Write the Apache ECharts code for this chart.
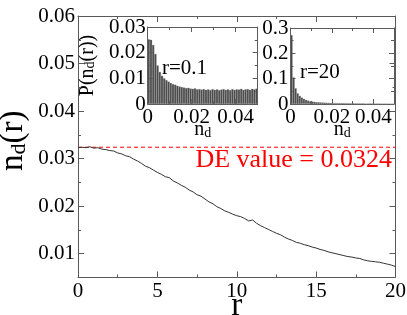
<!DOCTYPE html>
<html><head><meta charset="utf-8">
<script src="https://cdn.jsdelivr.net/npm/echarts@6/dist/echarts.min.js"></script>
<style>html,body{margin:0;padding:0;background:#fff}#c{width:407px;height:315px}</style>
</head><body><div id="c"></div>
<script>
// ---- data ----
const R = [0,0.25,0.5,0.75,1,1.25,1.5,1.75,2,2.25,2.5,2.75,3,3.25,3.5,3.75,4,4.25,4.5,4.75,5,5.25,5.5,5.75,6,6.25,6.5,6.75,7,7.25,7.5,7.75,8,8.25,8.5,8.75,9,9.25,9.5,9.75,10,10.25,10.5,10.75,11,11.25,11.5,11.75,12,12.25,12.5,12.75,13,13.25,13.5,13.75,14,14.25,14.5,14.75,15,15.25,15.5,15.75,16,16.25,16.5,16.75,17,17.25,17.5,17.75,18,18.25,18.5,18.75,19,19.25,19.5,19.75,20];
const ND = [0.0323,0.0324,0.0323,0.0325,0.0322,0.0323,0.0320,0.0319,0.0317,0.0316,0.0312,0.0310,0.0306,0.0304,0.0299,0.0295,0.0290,0.0284,0.0281,0.0276,0.0271,0.0267,0.0262,0.0260,0.0253,0.0249,0.0244,0.0240,0.0234,0.0230,0.0224,0.0221,0.0215,0.0209,0.0205,0.0199,0.0195,0.0190,0.0187,0.0183,0.0180,0.0178,0.0174,0.0169,0.0171,0.0164,0.0159,0.0155,0.0151,0.0147,0.0143,0.0140,0.0135,0.0131,0.0128,0.0124,0.0122,0.0119,0.0117,0.0114,0.0112,0.0109,0.0107,0.0104,0.0102,0.0100,0.0098,0.0096,0.0094,0.0093,0.0091,0.0090,0.0087,0.0085,0.0084,0.0083,0.0082,0.0080,0.0078,0.0076,0.0073];
const DE_VALUE = 0.0324;
const R_RANGE = [0, 20];
const BIN_CENTERS = ['0.0005','0.0015','0.0025','0.0035','0.0045','0.0055','0.0065','0.0075','0.0085','0.0095','0.0105','0.0115','0.0125','0.0135','0.0145','0.0155','0.0165','0.0175','0.0185','0.0195','0.0205','0.0215','0.0225','0.0235','0.0245','0.0255','0.0265','0.0275','0.0285','0.0295','0.0305','0.0315','0.0325','0.0335','0.0345','0.0355','0.0365','0.0375','0.0385','0.0395','0.0405','0.0415','0.0425','0.0435','0.0445','0.0455','0.0465','0.0475','0.0485','0.0495'];
const P_R01 = [0.0252,0.0250,0.0230,0.0195,0.0150,0.0125,0.0110,0.0100,0.0093,0.0087,0.0082,0.0078,0.0075,0.0071,0.0068,0.0066,0.0064,0.0062,0.0063,0.0060,0.0059,0.0061,0.0057,0.0058,0.0056,0.0058,0.0055,0.0057,0.0054,0.0058,0.0055,0.0057,0.0054,0.0056,0.0058,0.0055,0.0057,0.0054,0.0058,0.0055,0.0057,0.0056,0.0059,0.0055,0.0057,0.0058,0.0055,0.0059,0.0057,0.0060];
const P_R20 = [0.272,0.105,0.062,0.042,0.032,0.025,0.020,0.016,0.013,0.011,0.0095,0.0085,0.0075,0.0068,0.0062,0.0056,0.0052,0.0048,0.0045,0.0042,0.0040,0.0038,0.0036,0.0034,0.0033,0.0031,0.0030,0.0029,0.0027,0.0026,0.0025,0.0024,0.0023,0.0022,0.0022,0.0021,0.0020,0.0019,0.0019,0.0018,0.0017,0.0017,0.0016,0.0016,0.0015,0.0015,0.0014,0.0014,0.0013,0.0013];

// ---- styling ----
const FONT = 'Liberation Serif';
const AX = '#5a5a5a';
function axLine(){ return {show:true, onZero:false, lineStyle:{color:AX, width:1}}; }
function ticks(len){ return {show:true, inside:true, length:len, lineStyle:{color:AX, width:1}}; }
function minor(len){ return {show:true, splitNumber:2, length:len, lineStyle:{color:AX, width:1}}; }
const lab = (m, extra) => Object.assign({show:true, color:'#000', fontFamily:FONT, fontSize:21, margin:m}, extra||{});

function valueAxis(o){
  return Object.assign({type:'value', axisLine:axLine(), splitLine:{show:false}, nameMoveOverlap:false}, o);
}

const richMain = {n:{fontFamily:FONT, fontSize:33, color:'#000', lineHeight:33}, s:{fontFamily:FONT, fontSize:22, color:'#000', lineHeight:12, verticalAlign:'bottom'}};
const richInset = {n:{fontFamily:FONT, fontSize:20, color:'#000', lineHeight:20}, s:{fontFamily:FONT, fontSize:14, color:'#000', lineHeight:8, verticalAlign:'bottom'}};

const option = {
  animation:false,
  backgroundColor:'#fff',
  grid:[
    {left:78, right:11.5, top:16, bottom:37.5, containLabel:false, outerBoundsMode:'none'},
    {left:147.7, width:110, top:27, height:77, containLabel:false, outerBoundsMode:'none', show:true, backgroundColor:'#fff', borderWidth:0},
    {left:290.5, width:103.5, top:28, height:76, containLabel:false, outerBoundsMode:'none', show:true, backgroundColor:'#fff', borderWidth:0}
  ],
  xAxis:[
    valueAxis({gridIndex:0, position:'bottom', min:R_RANGE[0], max:R_RANGE[1], interval:5, axisTick:ticks(6), minorTick:minor(3), axisLabel:lab(3),
      name:'{n|r}', nameLocation:'middle', nameGap:12, nameTextStyle:{rich:richMain}}),
    valueAxis({gridIndex:0, position:'top', min:R_RANGE[0], max:R_RANGE[1], interval:5, axisTick:ticks(6), minorTick:minor(3), axisLabel:{show:false}}),
    // inset 1
    {type:'category', gridIndex:1, position:'bottom', data:BIN_CENTERS, boundaryGap:true, axisLine:{show:false}, axisTick:{show:false}, axisLabel:{show:false}, splitLine:{show:false}},
    valueAxis({gridIndex:1, position:'bottom', min:0, max:0.05, interval:0.02, axisTick:ticks(5), minorTick:minor(3), axisLabel:lab(3,{showMaxLabel:false}),
      name:'{n|n}{s|d}', nameLocation:'middle', nameGap:16, nameTextStyle:{rich:richInset}}),
    valueAxis({gridIndex:1, position:'top', min:0, max:0.05, interval:0.02, axisTick:ticks(5), minorTick:minor(3), axisLabel:{show:false}}),
    // inset 2
    {type:'category', gridIndex:2, position:'bottom', data:BIN_CENTERS, boundaryGap:true, axisLine:{show:false}, axisTick:{show:false}, axisLabel:{show:false}, splitLine:{show:false}},
    valueAxis({gridIndex:2, position:'bottom', min:0, max:0.05, interval:0.02, axisTick:ticks(5), minorTick:minor(3), axisLabel:lab(3,{showMaxLabel:false}),
      name:'{n|n}{s|d}', nameLocation:'middle', nameGap:16, nameTextStyle:{rich:richInset}}),
    valueAxis({gridIndex:2, position:'top', min:0, max:0.05, interval:0.02, axisTick:ticks(5), minorTick:minor(3), axisLabel:{show:false}})
  ],
  yAxis:[
    valueAxis({gridIndex:0, position:'left', min:0.005, max:0.06, splitNumber:5, axisTick:ticks(6), minorTick:minor(3), axisLabel:lab(3,{showMinLabel:false}),
      name:'{n|n}{s|d}{n|(r)}', nameLocation:'middle', nameGap:48, nameTextStyle:{rich:richMain, padding:[0,0,0,12]}}),
    valueAxis({gridIndex:0, position:'right', min:0.005, max:0.06, splitNumber:5, axisTick:ticks(6), minorTick:minor(3), axisLabel:{show:false}}),
    valueAxis({gridIndex:1, position:'left', min:0, max:0.03, interval:0.01, axisTick:ticks(5), minorTick:minor(3), axisLabel:lab(2),
      name:'{n|P(n}{s|d}{n|(r))}', nameLocation:'middle', nameGap:50, nameTextStyle:{rich:richInset}}),
    valueAxis({gridIndex:1, position:'right', min:0, max:0.03, interval:0.01, axisTick:ticks(5), minorTick:minor(3), axisLabel:{show:false}}),
    valueAxis({gridIndex:2, position:'left', min:0, max:0.3, interval:0.1, axisTick:ticks(5), minorTick:minor(3), axisLabel:lab(2)}),
    valueAxis({gridIndex:2, position:'right', min:0, max:0.3, interval:0.1, axisTick:ticks(5), minorTick:minor(3), axisLabel:{show:false}})
  ],
  series:[
    {type:'line', xAxisIndex:0, yAxisIndex:0, data:R_RANGE.map(r=>[r, DE_VALUE]), showSymbol:false, symbol:'none', silent:true,
      lineStyle:{color:'#ff0000', type:[4,3], width:1}, z:2},
    {type:'line', xAxisIndex:0, yAxisIndex:0, data:R.map((r,i)=>[r, ND[i]]), showSymbol:false, symbol:'none',
      lineStyle:{color:'#333', width:1}, z:3},
    {type:'bar', xAxisIndex:2, yAxisIndex:2, data:P_R01, barCategoryGap:'0%', itemStyle:{color:'#4a4a4a', borderColor:'#8c8c8c', borderWidth:0.3}},
    {type:'bar', xAxisIndex:5, yAxisIndex:4, data:P_R20, barCategoryGap:'0%', itemStyle:{color:'#4a4a4a', borderColor:'#8c8c8c', borderWidth:0.3}}
  ],
  graphic:[
    {type:'text', x:392, y:160, z:10, style:{text:'DE value = ' + DE_VALUE, fill:'#ff0000', font:'26px "Liberation Serif"', align:'right', verticalAlign:'middle'}},
    {type:'text', x:162, y:68, z:10, style:{text:'r=0.1', fill:'#000', font:'21px "Liberation Serif"', align:'left', verticalAlign:'middle'}},
    {type:'text', x:300, y:72, z:10, style:{text:'r=20', fill:'#000', font:'21px "Liberation Serif"', align:'left', verticalAlign:'middle'}}
  ]
};
const chart = echarts.init(document.getElementById('c'), null, {renderer:'canvas'});
chart.setOption(option);
</script></body></html>
